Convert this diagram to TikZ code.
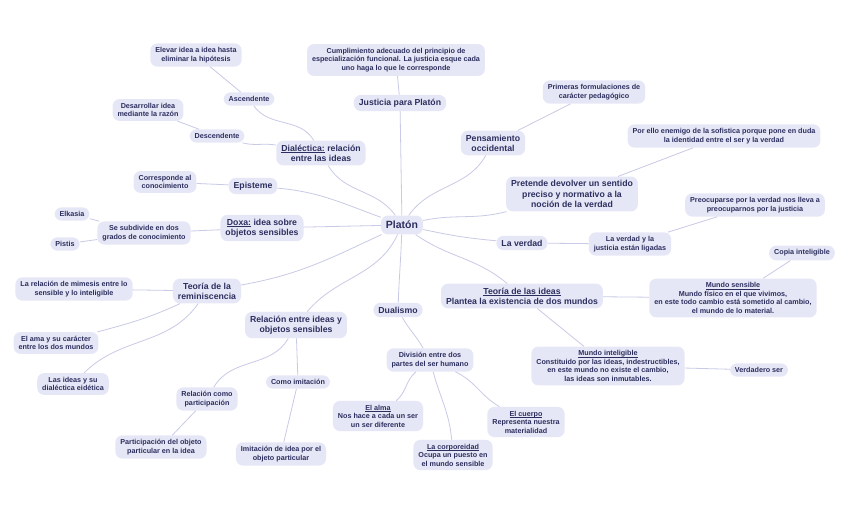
\documentclass[tikz,border=0pt]{standalone}
\usepackage{fontspec}
\setmainfont{Liberation Sans}
\definecolor{nfill}{HTML}{E6E7F6}
\definecolor{ntext}{HTML}{2C2E5E}
\definecolor{ecol}{HTML}{C8CAE6}
\newcommand\myul[1]{\setbox0=\hbox{#1}\rlap{\rule[-1.4pt]{\wd0}{0.45pt}}\box0\relax}
\begin{document}
\begin{tikzpicture}[x=1pt,y=1pt,
 box/.style={rounded corners=7pt, fill=nfill, text=ntext, align=center, inner xsep=5pt, inner ysep=4pt},
 lf/.style={box, font=\fontsize{7.2}{8.5}\selectfont\bfseries},
 md/.style={box, font=\fontsize{8.7}{10.2}\selectfont\bfseries, inner ysep=4pt},
 rt/.style={box, font=\fontsize{10.5}{12}\selectfont\bfseries, inner ysep=5.5pt, inner xsep=5pt},
 edge/.style={draw=ecol, line width=0.8pt}]
\useasboundingbox (0,0) rectangle (848,-505);
\fill[white] (0,0) rectangle (848,-505);

\node[rt] (pl) at (402,-225) {Platón};
\node[md] (jus) at (400,-103) {Justicia para Platón};
\node[lf] (cum) at (396,-60) {Cumplimiento adecuado del principio de\\especialización funcional. La justicia esque cada\\uno haga lo que le corresponde};
\node[md] (dia) at (321,-153) {\myul{Dialéctica:} relación\\entre las ideas};
\node[lf] (asc) at (249,-99) {Ascendente};
\node[lf] (ele) at (196,-55) {Elevar idea a idea hasta\\eliminar la hipótesis};
\node[lf] (des) at (217,-136) {Descendente};
\node[lf] (dsr) at (148,-110) {Desarrollar idea\\mediante la razón};
\node[md] (epi) at (253,-186) {Episteme};
\node[lf] (cor) at (165,-182) {Corresponde al\\conocimiento};
\node[md] (dox) at (262,-228) {\myul{Doxa:} idea sobre\\objetos sensibles};
\node[lf] (sub) at (144,-233) {Se subdivide en dos\\grados de conocimiento};
\node[lf] (elk) at (72,-214) {Elkasia};
\node[lf] (pis) at (65,-244) {Pistis};
\node[md] (rem) at (207,-291) {Teoría de la\\reminiscencia};
\node[lf] (mim) at (74,-289) {La relación de mimesis entre lo\\sensible y lo inteligible};
\node[lf] (ama) at (56,-343) {El ama y su carácter\\entre los dos mundos};
\node[lf] (eid) at (73,-384) {Las ideas y su\\dialéctica eidética};
\node[md] (rel) at (296,-325) {Relación entre ideas y\\objetos sensibles};
\node[lf] (par) at (207,-399) {Relación como\\participación};
\node[lf] (pob) at (161,-447) {Participación del objeto\\particular en la idea};
\node[lf] (imi) at (298,-382) {Como imitación};
\node[lf] (iob) at (281,-454) {Imitación de idea por el\\objeto particular};
\node[md] (dua) at (398,-310) {Dualismo};
\node[lf] (div) at (430,-360) {División entre dos\\partes del ser humano};
\node[lf] (alm) at (378,-416) {\myul{El alma}\\Nos hace a cada un ser\\un ser diferente};
\node[lf] (cpd) at (453,-455) {\myul{La corporeidad}\\Ocupa un puesto en\\el mundo sensible};
\node[lf] (cue) at (526,-422) {\myul{El cuerpo}\\Representa nuestra\\materialidad};
\node[md] (pen) at (493,-143) {Pensamiento\\occidental};
\node[lf] (pri) at (594,-92) {Primeras formulaciones de\\carácter pedagógico};
\node[md] (pre) at (572,-194) {Pretende devolver un sentido\\preciso y normativo a la\\noción de la verdad};
\node[lf] (ene) at (724,-136) {Por ello enemigo de la sofistica porque pone en duda\\la identidad entre el ser y la verdad};
\node[md] (ver) at (522,-243) {La verdad};
\node[lf] (lig) at (630,-244) {La verdad y la\\justicia están ligadas};
\node[lf] (pcp) at (755,-205) {Preocuparse por la verdad nos lleva a\\preocuparnos por la justicia};
\node[md] (tid) at (522,-296) {\myul{Teoría de las ideas}\\Plantea la existencia de dos mundos};
\node[lf] (mse) at (733,-298) {\myul{Mundo sensible}\\Mundo físico en el que vivimos,\\en este todo cambio está sometido al cambio,\\el mundo de lo material.};
\node[lf] (cin) at (802,-253) {Copia inteligible};
\node[lf] (mint) at (608,-366) {\myul{Mundo inteligible}\\Constituido por las ideas, indestructibles,\\en este mundo no existe el cambio,\\las ideas son inmutables.};
\node[lf] (vse) at (759,-370) {Verdadero ser};

\draw[edge] (pl) -- (jus);
\draw[edge] (jus) -- (cum);
\draw[edge] (dia) to[out=-60,in=125] (pl);
\draw[edge] (dia) to[out=120,in=-55] (asc);
\draw[edge] (dia) to[out=170,in=-15] (des);
\draw[edge] (asc) -- (ele);
\draw[edge] (des) -- (dsr);
\draw[edge] (epi) to[out=-5,in=160] (pl);
\draw[edge] (epi) -- (cor);
\draw[edge] (dox) -- (pl);
\draw[edge] (dox) -- (sub);
\draw[edge] (sub) -- (elk);
\draw[edge] (sub) -- (pis);
\draw[edge] (rem) to[out=10,in=-155] (pl);
\draw[edge] (rem) -- (mim);
\draw[edge] (rem) to[out=-155,in=15] (ama);
\draw[edge] (rem) to[out=-125,in=45] (eid);
\draw[edge] (rel) to[out=50,in=-115] (pl);
\draw[edge] (rel) to[out=-120,in=60] (par);
\draw[edge] (rel) -- (imi);
\draw[edge] (par) -- (pob);
\draw[edge] (imi) -- (iob);
\draw[edge] (pl) to[out=-92,in=88] (dua);
\draw[edge] (dua) to[out=-60,in=120] (div);
\draw[edge] (div) to[out=-140,in=40] (alm);
\draw[edge] (div) to[out=-75,in=95] (cpd);
\draw[edge] (div) to[out=-25,in=150] (cue);
\draw[edge] (pl) to[out=55,in=-120] (pen);
\draw[edge] (pen) -- (pri);
\draw[edge] (pl) to[out=12,in=195] (pre);
\draw[edge] (pre) -- (ene);
\draw[edge] (pl) to[out=-12,in=175] (ver);
\draw[edge] (ver) -- (lig);
\draw[edge] (lig) -- (pcp);
\draw[edge] (pl) to[out=-35,in=140] (tid);
\draw[edge] (tid) -- (mse);
\draw[edge] (mse) -- (cin);
\draw[edge] (tid) -- (mint);
\draw[edge] (mint) -- (vse);
\end{tikzpicture}
\end{document}
